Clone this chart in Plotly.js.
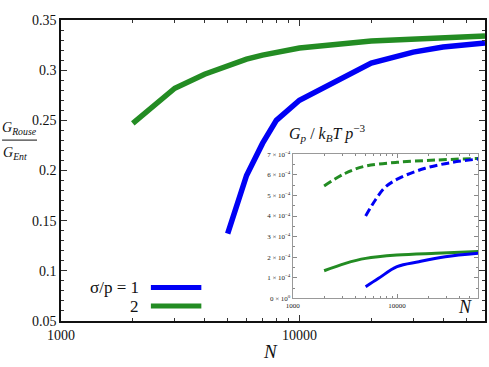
<!DOCTYPE html>
<html>
<head>
<meta charset="utf-8">
<script src="https://cdn.plot.ly/plotly-3.0.1.min.js"></script>
<style>
  /* force the serif face on every svg text of the chart */
  #chart svg text, #chart svg tspan { font-family: "Liberation Serif" !important; }
</style>
</head>
<body style="margin:0">
<div id="chart" style="width:489px;height:367px"></div>
<script>
// main panel: G_Rouse / G_Ent versus N
var nGreen = [2000, 3000, 4000, 5000, 6000, 7000, 8000, 10000, 20000, 30000, 40000, 60000];
var ratioGreen = [0.247, 0.282, 0.296, 0.305, 0.311, 0.315, 0.318, 0.322, 0.329, 0.331, 0.3325, 0.334];
var nBlue = [5000, 6000, 7000, 8000, 10000, 20000, 30000, 40000, 60000];
var ratioBlue = [0.137, 0.195, 0.227, 0.250, 0.270, 0.307, 0.318, 0.323, 0.327];

// inset: G_p / kT p^-3 (dashed = Ent, solid = Rouse)
var nInsetGreen = [2000, 3200, 5000, 10000, 23600, 60000];
var entGreen = [5.46e-4, 6.08e-4, 6.43e-4, 6.61e-4, 6.72e-4, 6.80e-4];
var rouseGreen = [1.34e-4, 1.70e-4, 1.94e-4, 2.10e-4, 2.19e-4, 2.27e-4];
var nInsetBlue = [5000, 6200, 7700, 10400, 18600, 34000, 60000];
var entBlue = [4.00e-4, 4.78e-4, 5.40e-4, 5.83e-4, 6.32e-4, 6.61e-4, 6.77e-4];
var nInsetBlue2 = [5000, 6650, 10000, 16200, 29000, 60000];
var rouseBlue = [0.56e-4, 0.97e-4, 1.54e-4, 1.78e-4, 2.02e-4, 2.19e-4];

var insetTickVals = [0, 1e-4, 2e-4, 3e-4, 4e-4, 5e-4, 6e-4, 7e-4];
var insetTickText = ["0 × 10<sup>0</sup>", "1 × 10<sup>−4</sup>", "2 × 10<sup>−4</sup>", "3 × 10<sup>−4</sup>",
  "4 × 10<sup>−4</sup>", "5 × 10<sup>−4</sup>", "6 × 10<sup>−4</sup>", "7 × 10<sup>−4</sup>"];
var minorN = [2000, 3000, 4000, 5000, 6000, 7000, 8000, 9000, 20000, 30000, 40000, 50000];

var blue = "#0000f5";
var green = "#238c23";
var serif = "Liberation Serif";

var data = [
  {x: nBlue, y: ratioBlue, mode: "lines", line: {color: blue, width: 5.5}},
  {x: nGreen, y: ratioGreen, mode: "lines", line: {color: green, width: 5.5}},
  {x: nInsetGreen, y: entGreen, xaxis: "x2", yaxis: "y2", mode: "lines", line: {color: green, width: 3, dash: "8px,4px", shape: "spline"}},
  {x: nInsetBlue, y: entBlue, xaxis: "x2", yaxis: "y2", mode: "lines", line: {color: blue, width: 3, dash: "8px,4px", shape: "spline"}},
  {x: nInsetGreen, y: rouseGreen, xaxis: "x2", yaxis: "y2", mode: "lines", line: {color: green, width: 3, shape: "spline"}},
  {x: nInsetBlue2, y: rouseBlue, xaxis: "x2", yaxis: "y2", mode: "lines", line: {color: blue, width: 3, shape: "spline"}}
];

var layout = {
  width: 489,
  height: 367,
  margin: {l: 61, r: 4, t: 20, b: 46},
  showlegend: false,
  xaxis: {
    type: "log", range: [3, Math.log10(60000)],
    tickvals: [1000, 10000], ticktext: ["1000", "10000"],
    ticks: "inside", ticklen: 6, tickcolor: "#333", mirror: "ticks",
    minor: {tickvals: minorN, ticks: "inside", ticklen: 3, tickcolor: "#333"},
    showline: true, linecolor: "#111", linewidth: 1.5,
    showgrid: false, zeroline: false,
    tickfont: {size: 14, family: serif, color: "#111"}
  },
  yaxis: {
    range: [0.05, 0.35], dtick: 0.05,
    ticks: "inside", ticklen: 6, tickcolor: "#333", mirror: "ticks",
    minor: {dtick: 0.01, ticks: "inside", ticklen: 3, tickcolor: "#333"},
    showline: true, linecolor: "#111", linewidth: 1.5,
    showgrid: false, zeroline: false,
    tickfont: {size: 14, family: serif, color: "#111"}
  },
  xaxis2: {
    domain: [0.5465, 0.984], anchor: "y2",
    type: "log", range: [3, Math.log10(60000)],
    tickvals: [1000, 10000], ticktext: ["1000", "10000"],
    ticks: "inside", ticklen: 4, tickcolor: "#888", mirror: "ticks",
    minor: {tickvals: minorN, ticks: "inside", ticklen: 2, tickcolor: "#888"},
    showline: true, linecolor: "#999", linewidth: 1,
    showgrid: false, zeroline: false,
    tickfont: {size: 7, family: serif, color: "#222"}
  },
  yaxis2: {
    domain: [0.0754, 0.5538], anchor: "x2",
    range: [0, 7e-4], tickvals: insetTickVals, ticktext: insetTickText,
    ticks: "inside", ticklen: 4, tickcolor: "#888", mirror: "ticks",
    minor: {dtick: 0.5e-4, ticks: "inside", ticklen: 2, tickcolor: "#888"},
    showline: true, linecolor: "#999", linewidth: 1,
    showgrid: false, zeroline: false,
    tickfont: {size: 7, family: serif, color: "#222"}
  },
  shapes: [
    // fraction bar of the y label
    {type: "line", xref: "paper", yref: "paper", x0: -0.139, x1: -0.0566, y0: 0.601, y1: 0.601, line: {color: "#111", width: 1}},
    // legend keys
    {type: "line", xref: "paper", yref: "paper", x0: 0.212, x1: 0.331, y0: 0.1113, y1: 0.1113, line: {color: blue, width: 5}},
    {type: "line", xref: "paper", yref: "paper", x0: 0.212, x1: 0.331, y0: 0.0498, y1: 0.0498, line: {color: green, width: 5}}
  ],
  annotations: [
    {xref: "paper", yref: "paper", x: 0.493, y: -0.1, text: "<i>N</i>", showarrow: false, font: {size: 19, family: serif, color: "#111"}, xanchor: "center", yanchor: "middle"},
    {xref: "paper", yref: "paper", x: 0.953, y: 0.0465, text: "<i>N</i>", showarrow: false, font: {size: 18, family: serif, color: "#111"}, xanchor: "center", yanchor: "middle"},
    {xref: "paper", yref: "paper", x: 0.533, y: 0.625, text: "<i>G</i><sub><i>p</i></sub> / <i>k</i><sub><i>B</i></sub><i>T p</i><sup>−3</sup>", showarrow: false, font: {size: 16, family: serif, color: "#111"}, xanchor: "left", yanchor: "middle"},
    {xref: "paper", yref: "paper", x: -0.099, y: 0.64, text: "<i>G</i><sub><i>Rouse</i></sub>", showarrow: false, font: {size: 14, family: serif, color: "#111"}, xanchor: "center", yanchor: "middle"},
    {xref: "paper", yref: "paper", x: -0.108, y: 0.556, text: "<i>G</i><sub><i>Ent</i></sub>", showarrow: false, font: {size: 14, family: serif, color: "#111"}, xanchor: "center", yanchor: "middle"},
    {xref: "paper", yref: "paper", x: 0.189, y: 0.1113, text: "σ/p = 1", showarrow: false, font: {size: 17, family: serif, color: "#111"}, xanchor: "right", yanchor: "middle"},
    {xref: "paper", yref: "paper", x: 0.189, y: 0.0498, text: "2", showarrow: false, font: {size: 17, family: serif, color: "#111"}, xanchor: "right", yanchor: "middle"}
  ]
};

Plotly.newPlot("chart", data, layout, {displayModeBar: false});
</script>
</body>
</html>
